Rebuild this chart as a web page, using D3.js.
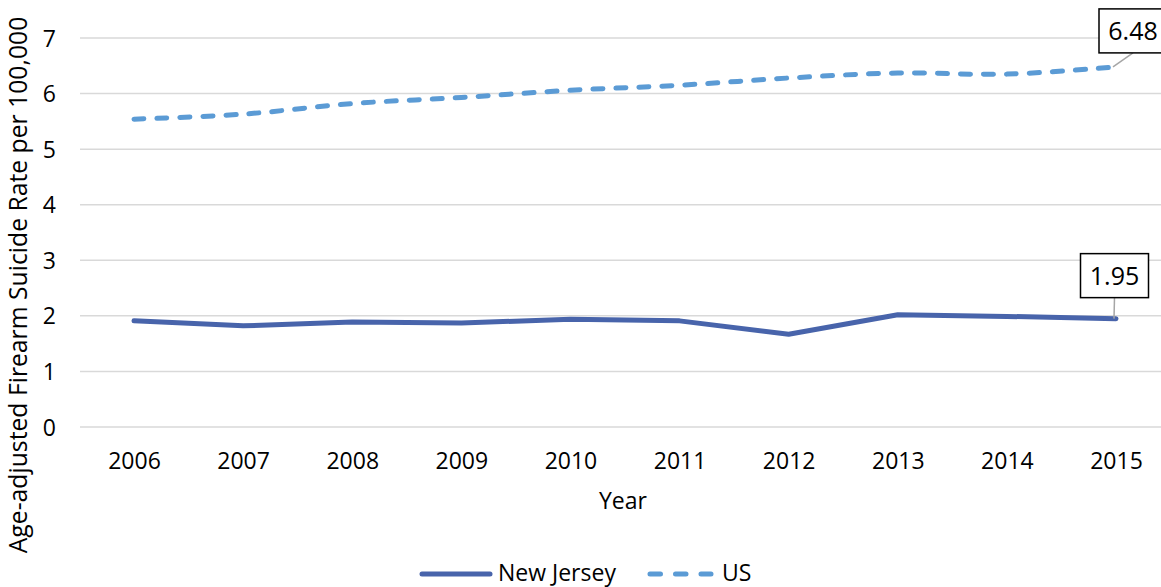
<!DOCTYPE html>
<html>
<head>
<meta charset="utf-8">
<script src="https://cdn.jsdelivr.net/npm/d3@7"></script>
<style>
  html, body { margin: 0; padding: 0; background: #fff; }
  svg { display: block; font-family: "Open Sans", sans-serif; }
</style>
</head>
<body>
<svg id="chart" width="1161" height="587"></svg>
<script>
const years = ["2006","2007","2008","2009","2010","2011","2012","2013","2014","2015"];
const newJersey = [1.91, 1.82, 1.89, 1.87, 1.94, 1.91, 1.67, 2.02, 1.99, 1.95];
const us = [5.54, 5.63, 5.82, 5.93, 6.06, 6.15, 6.28, 6.37, 6.35, 6.48];
const yTicks = [0, 1, 2, 3, 4, 5, 6, 7];
const seriesNames = ["New Jersey", "US"];
const yTitle = "Age-adjusted Firearm Suicide Rate per 100,000";
const xTitle = "Year";

const svg = d3.select("#chart");
const njColor = "#4864AB";
const usColor = "#5B9BD5";

const x = d3.scalePoint().domain(years).range([134, 1116]);
const y = d3.scaleLinear().domain([0, 7]).range([427, 38]);

// gridlines
svg.append("g").selectAll("line").data(yTicks).join("line")
  .attr("x1", 80).attr("x2", 1171)
  .attr("y1", d => y(d)).attr("y2", d => y(d))
  .attr("stroke", "#d9d9d9").attr("stroke-width", 1.5);

// y axis labels
const yAxis = d3.axisLeft(y).tickValues(yTicks).tickSize(0).tickPadding(0).tickFormat(d3.format("d"));
const ya = svg.append("g").attr("transform", "translate(56,0)").call(yAxis);
ya.select(".domain").remove();
ya.selectAll("text").attr("font-size", 23).attr("font-family", "'Open Sans', sans-serif").attr("fill", "#000").attr("dy", "0.35em");

// x axis labels
const xAxis = d3.axisBottom(x).tickSize(0).tickPadding(0);
const xa = svg.append("g").attr("transform", "translate(0,469)").call(xAxis);
xa.select(".domain").remove();
xa.selectAll("text").attr("font-size", 23).attr("font-family", "'Open Sans', sans-serif").attr("fill", "#000").attr("dy", 0).attr("y", 0);

// axis titles
svg.append("text").attr("x", 623).attr("y", 509).attr("text-anchor", "middle")
  .attr("font-size", 23).attr("fill", "#000").text(xTitle);

const yt = svg.append("text").attr("transform", "translate(27,285) rotate(-90)")
  .attr("text-anchor", "middle").attr("font-size", 22.5).attr("fill", "#000").text(yTitle);
const len = yt.node().getComputedTextLength();
yt.attr("font-size", 22.5 * 537 / len);

// lines
const njLine = d3.line().x((d, i) => x(years[i])).y(d => y(d));
const usLine = d3.line().x((d, i) => x(years[i])).y(d => y(d)).curve(d3.curveCatmullRom.alpha(0.5));

svg.append("path").datum(us).attr("d", usLine)
  .attr("fill", "none").attr("stroke", usColor).attr("stroke-width", 5)
  .attr("stroke-linecap", "round").attr("stroke-dasharray", "10,13");

svg.append("path").datum(newJersey).attr("d", njLine)
  .attr("fill", "none").attr("stroke", njColor).attr("stroke-width", 5)
  .attr("stroke-linecap", "round").attr("stroke-linejoin", "round");

// data labels
function label(val, dx, dyBottom, lx1, ly1) {
  const px = x(years[years.length - 1]), py = y(val);
  const w = 68, h = 44;
  const cx = px + dx, bottom = py - dyBottom;
  svg.append("line").attr("x1", px + lx1).attr("y1", py + ly1)
    .attr("x2", cx).attr("y2", bottom)
    .attr("stroke", "#a6a6a6").attr("stroke-width", 1.5);
  svg.append("rect").attr("x", cx - w / 2).attr("y", bottom - h).attr("width", w).attr("height", h)
    .attr("fill", "#fff").attr("stroke", "#000").attr("stroke-width", 1.5);
  svg.append("text").attr("x", cx).attr("y", bottom - h / 2).attr("dy", "0.36em")
    .attr("text-anchor", "middle").attr("font-size", 25).attr("fill", "#000")
    .text(d3.format(".2f")(val));
}
label(us[us.length - 1], 17, 14, -3, 0);
label(newJersey[newJersey.length - 1], -1.5, 21, -2, 0);

// legend
const lg = svg.append("g");
lg.append("line").attr("x1", 422).attr("x2", 490).attr("y1", 574).attr("y2", 574)
  .attr("stroke", njColor).attr("stroke-width", 5).attr("stroke-linecap", "round");
lg.append("text").attr("x", 498).attr("y", 581).attr("font-size", 23).attr("fill", "#000").text(seriesNames[0]);
lg.append("line").attr("x1", 650).attr("x2", 711).attr("y1", 574).attr("y2", 574)
  .attr("stroke", usColor).attr("stroke-width", 5).attr("stroke-linecap", "round")
  .attr("stroke-dasharray", "10.5,15");
lg.append("text").attr("x", 722).attr("y", 581).attr("font-size", 23).attr("fill", "#000").text(seriesNames[1]);
</script>
</body>
</html>
